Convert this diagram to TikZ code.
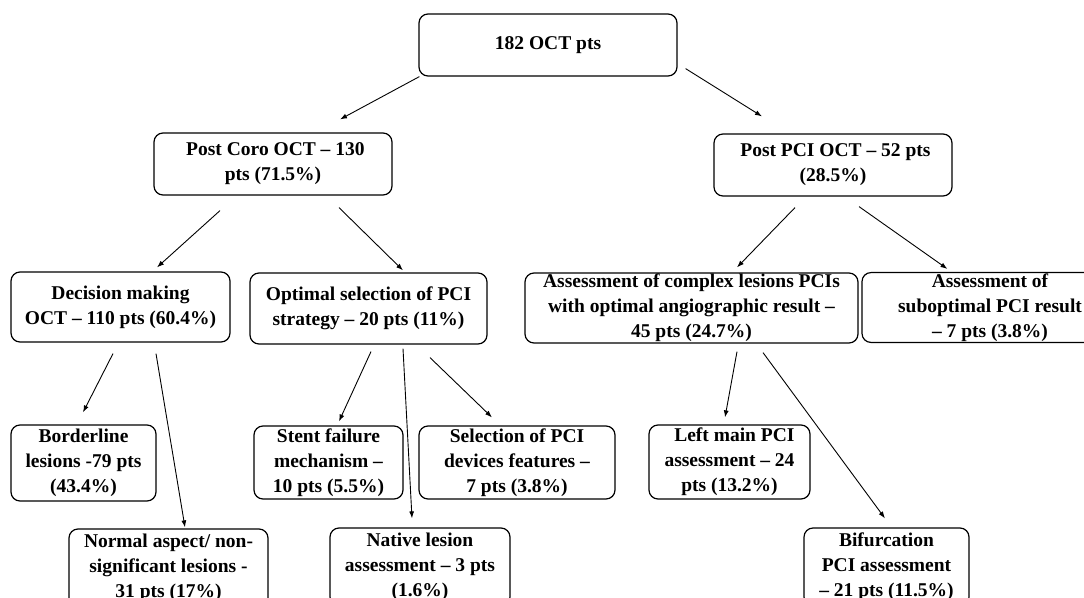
\documentclass[tikz,border=0pt]{standalone}
\usepackage{fontspec}
\setmainfont{Liberation Serif}
\usepackage{tikz}
\usetikzlibrary{arrows.meta}

\begin{document}
\begin{tikzpicture}[x=1pt,y=-1pt]
	\tikzstyle{box}=[draw=black,line width=1.2pt,rounded corners=9pt,align=center,inner sep=1pt,font=\fontsize{19.5}{25}\selectfont\bfseries]
	\tikzstyle{arr}=[line width=0.9pt,-{Latex[length=7pt,width=5pt]}]
	\useasboundingbox (0,0) rectangle (1084,597);
	\clip (0,0) rectangle (1084,597);
	\node[box,minimum width=258pt,minimum height=62pt](root) at (548,45) {182 OCT pts};
	\node[box,minimum width=238pt,minimum height=62pt](coro) at (273,164) {\ Post Coro OCT -- 130\\pts (71.5\%)};
	\node[box,minimum width=238pt,minimum height=62pt](pci) at (833,165) {\ Post PCI OCT -- 52 pts\\(28.5\%)};
	\node[box,minimum width=219pt,minimum height=70pt](dec) at (120.5,307) {Decision making\\OCT -- 110 pts (60.4\%)};
	\node[box,minimum width=237pt,minimum height=71pt](opt) at (368.5,308.5) {Optimal selection of PCI\\strategy -- 20 pts (11\%)};
	\node[box,minimum width=333pt,minimum height=70pt](cplx) at (691.5,308) {Assessment of complex lesions PCIs\\with optimal angiographic result --\\45 pts (24.7\%)};
	\node[box,minimum width=256pt,minimum height=69pt](sub) at (990,307.5) {Assessment of\\suboptimal PCI result\\-- 7 pts (3.8\%)};
	\node[box,minimum width=145pt,minimum height=76pt](bord) at (83.5,463) {Borderline\\lesions -79 pts\\(43.4\%)};
	\node[box,minimum width=149pt,minimum height=73pt](stent) at (328.5,462.5) {Stent failure\\mechanism --\\10 pts (5.5\%)};
	\node[box,minimum width=196pt,minimum height=73pt](sel) at (517,462.5) {Selection of PCI\\devices features --\\7 pts (3.8\%)};
	\node[box,minimum width=161pt,minimum height=74pt](lm) at (729.5,462) {\ \ Left main PCI\\assessment -- 24\\pts (13.2\%)};
	\node[box,minimum width=199pt,minimum height=78pt](norm) at (168.5,568) {Normal aspect/ non-\\significant lesions -\\31 pts (17\%)};
	\node[box,minimum width=180pt,minimum height=78pt](nat) at (420,567) {Native lesion\\assessment -- 3 pts\\(1.6\%)};
	\node[box,minimum width=165pt,minimum height=78pt](bif) at (886.5,567) {Bifurcation\\PCI assessment\\-- 21 pts (11.5\%)};
	\draw[arr]([xshift=1pt]root.south west) -- ([xshift=67pt,yshift=13pt]coro.north);
	\draw[arr]([xshift=8pt,yshift=8pt]root.south east) -- ([xshift=-71pt,yshift=17pt]pci.north);
	\draw[arr]([xshift=-53pt,yshift=-15pt]coro.south) -- ([xshift=36.5pt,yshift=4pt]dec.north);
	\draw[arr]([xshift=66pt,yshift=-12pt]coro.south) -- ([xshift=34.5pt,yshift=2pt]opt.north);
	\draw[arr]([xshift=-38pt,yshift=-11pt]pci.south) -- ([xshift=45.5pt,yshift=5pt]cplx.north);
	\draw[arr]([xshift=26pt,yshift=-10pt]pci.south) -- ([xshift=86pt,yshift=3pt]sub.north west);
	\draw[arr]([xshift=-7.5pt,yshift=-11pt]dec.south) -- ([xshift=-0.5pt,yshift=12pt]bord.north);
	\draw[arr]([xshift=35.5pt,yshift=-11pt]dec.south) -- ([xshift=16.5pt,yshift=1pt]norm.north);
	\draw[arr]([xshift=2.5pt,yshift=-7pt]opt.south) -- ([xshift=10.5pt,yshift=4pt]stent.north);
	\draw[arr]([xshift=34.5pt,yshift=-4pt]opt.south) -- ([xshift=-8pt,yshift=9pt]nat.north);
	\draw[arr]([xshift=61.5pt,yshift=-13pt]opt.south) -- ([xshift=-25pt,yshift=8pt]sel.north);
	\draw[arr]([xshift=45.5pt,yshift=-8pt]cplx.south) -- ([xshift=-4.5pt,yshift=7pt]lm.north);
	\draw[arr]([xshift=71.5pt,yshift=-9pt]cplx.south) -- ([xshift=-1.5pt,yshift=9pt]bif.north);
\end{tikzpicture}
\end{document}
